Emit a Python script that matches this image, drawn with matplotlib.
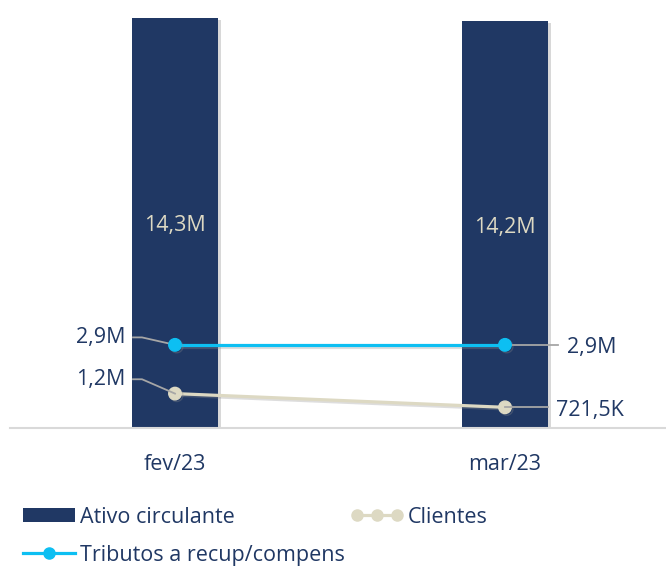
import matplotlib
matplotlib.use("Agg")
import matplotlib.pyplot as plt
import matplotlib.patheffects as pe
from matplotlib.legend_handler import HandlerLine2D
from matplotlib.patches import Patch
from matplotlib.lines import Line2D

categories = ["fev/23", "mar/23"]
ativo = [14.3, 14.2]          # millions
tributos = [2.9, 2.9]
clientes = [1.2, 0.7215]
ativo_labels = ["14,3M", "14,2M"]
tributos_labels = ["2,9M", "2,9M"]
clientes_labels = ["1,2M", "721,5K"]

NAVY = "#203864"
CYAN = "#0DBFF2"
TAN = "#DDD9C3"
LABEL_TAN = "#DDD9C3"
GREY = "#A6A6A6"

plt.rcParams['font.family'] = ['Open Sans', 'DejaVu Sans']

fig = plt.figure(figsize=(6.66, 5.68), dpi=100)
ax = fig.add_axes([10/666, (568-428)/568, 660/666, 428/568])
x = list(range(len(categories)))

shadow = [pe.SimplePatchShadow(offset=(2.5, -1.5), shadow_rgbFace="#909090", alpha=0.35), pe.Normal()]
bars = ax.bar(x, ativo, width=0.258, color=NAVY, zorder=2)
for b in bars:
    b.set_path_effects(shadow)

lshadow = [pe.SimpleLineShadow(offset=(1.2, -1.2), shadow_color="#909090", alpha=0.3), pe.Normal()]
ax.plot(x, tributos, color=CYAN, lw=2.3, marker="o", ms=9, zorder=4, path_effects=lshadow)
ax.plot(x, clientes, color=TAN, lw=2.3, marker="o", ms=9, zorder=3, path_effects=lshadow)

ax.set_xlim(-0.5, 1.5)
ax.set_ylim(0, 428/28.67)
for s in ["top", "right", "left"]:
    ax.spines[s].set_visible(False)
ax.spines["bottom"].set_color("#D9D9D9")
ax.spines["bottom"].set_linewidth(1.5)
ax.set_yticks([])
ax.set_xticks(x)
fsz = 15.5
ax.set_xticklabels(categories, fontsize=fsz, color=NAVY)
ax.tick_params(axis="x", length=0, pad=19)

# bar labels
for xi, v, lab in zip(x, ativo, ativo_labels):
    ax.text(xi, v/2 - 0.1, lab, ha="center", va="center", fontsize=fsz, color=LABEL_TAN, zorder=5)

def px(dx):
    return dx / 330.0

# data labels with leader lines
for vals, labs, dy in ((tributos, tributos_labels, 0.26), (clientes, clientes_labels, 0.5)):
    xv, yv = x[0], vals[0]
    ly = yv + dy
    ax.plot([xv - px(42), xv - px(33), xv], [ly, ly, yv], color=GREY, lw=1.3, zorder=3.5)
    ax.text(xv - px(50), ly, labs[0], ha="right", va="center", fontsize=fsz, color=NAVY)
xv = x[1]
ax.plot([xv, xv + px(53)], [tributos[1], tributos[1]], color=GREY, lw=1.3, zorder=3.5)
ax.text(xv + px(62), tributos[1] - 0.08, tributos_labels[1], ha="left", va="center", fontsize=fsz, color=NAVY)
ax.plot([xv, xv + px(43)], [clientes[1], clientes[1]], color=GREY, lw=1.3, zorder=3.5)
ax.text(xv + px(51), clientes[1] - 0.12, clientes_labels[1], ha="left", va="center", fontsize=fsz, color=NAVY)

h_ativo = Patch(facecolor=NAVY, label="Ativo circulante")
h_trib = Line2D([], [], color=CYAN, lw=2.3, marker="o", ms=8, label="Tributos a recup/compens")
h_cli = Line2D([], [], color=TAN, lw=2.3, marker="o", ms=8, label="Clientes")
leg = fig.legend(handles=[h_ativo, h_trib, h_cli], loc="upper left",
                 bbox_to_anchor=(14/666, 1 - 498/568), ncol=2, frameon=False,
                 fontsize=fsz, handlelength=2.45, handleheight=0.65, handletextpad=0.2,
                 columnspacing=0.3, labelspacing=0.8, numpoints=1, borderaxespad=0,
                 handler_map={h_cli: HandlerLine2D(numpoints=3)})
for t in leg.get_texts():
    t.set_color(NAVY)

fig.savefig("out.png", dpi=100)
